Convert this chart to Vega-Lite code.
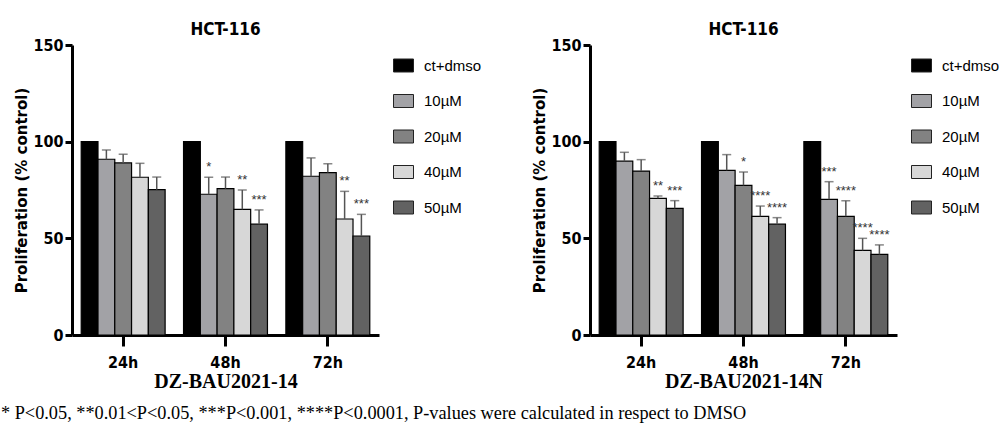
{
  "$schema": "https://vega.github.io/schema/vega-lite/v6.json",
  "padding": {"left": 0, "top": 21, "right": 0, "bottom": 0},
  "title": {
    "text": "* P<0.05, **0.01<P<0.05, ***P<0.001, ****P<0.0001, P-values were calculated in respect to DMSO",
    "orient": "bottom", "anchor": "start", "frame": "bounds",
    "font": "Liberation Serif", "fontSize": 18.3, "fontWeight": "normal", "color": "black",
    "dx": -14, "offset": 14
  },
  "datasets": {
    "left": [
      {"time": "24h", "group": "ct+dmso", "value": 100, "err": null, "sig": ""},
      {"time": "24h", "group": "10µM", "value": 90.9, "err": 95.7, "sig": ""},
      {"time": "24h", "group": "20µM", "value": 89.0, "err": 93.5, "sig": ""},
      {"time": "24h", "group": "40µM", "value": 81.6, "err": 88.8, "sig": ""},
      {"time": "24h", "group": "50µM", "value": 75.2, "err": 81.7, "sig": ""},
      {"time": "48h", "group": "ct+dmso", "value": 100, "err": null, "sig": ""},
      {"time": "48h", "group": "10µM", "value": 72.8, "err": 81.6, "sig": "*"},
      {"time": "48h", "group": "20µM", "value": 75.7, "err": 81.7, "sig": ""},
      {"time": "48h", "group": "40µM", "value": 65.0, "err": 75.0, "sig": "**"},
      {"time": "48h", "group": "50µM", "value": 57.3, "err": 64.7, "sig": "***"},
      {"time": "72h", "group": "ct+dmso", "value": 100, "err": null, "sig": ""},
      {"time": "72h", "group": "10µM", "value": 82.1, "err": 91.6, "sig": ""},
      {"time": "72h", "group": "20µM", "value": 84.0, "err": 88.6, "sig": ""},
      {"time": "72h", "group": "40µM", "value": 60.0, "err": 74.3, "sig": "**"},
      {"time": "72h", "group": "50µM", "value": 51.2, "err": 62.4, "sig": "***"}
    ],
    "right": [
      {"time": "24h", "group": "ct+dmso", "value": 100, "err": null, "sig": ""},
      {"time": "24h", "group": "10µM", "value": 89.9, "err": 94.5, "sig": ""},
      {"time": "24h", "group": "20µM", "value": 84.8, "err": 90.7, "sig": ""},
      {"time": "24h", "group": "40µM", "value": 70.7, "err": 71.9, "sig": "**"},
      {"time": "24h", "group": "50µM", "value": 65.5, "err": 69.5, "sig": "***"},
      {"time": "48h", "group": "ct+dmso", "value": 100, "err": null, "sig": ""},
      {"time": "48h", "group": "10µM", "value": 85.2, "err": 93.3, "sig": ""},
      {"time": "48h", "group": "20µM", "value": 77.4, "err": 84.3, "sig": "*"},
      {"time": "48h", "group": "40µM", "value": 61.4, "err": 66.7, "sig": "****"},
      {"time": "48h", "group": "50µM", "value": 57.3, "err": 60.7, "sig": "****"},
      {"time": "72h", "group": "ct+dmso", "value": 100, "err": null, "sig": ""},
      {"time": "72h", "group": "10µM", "value": 70.2, "err": 79.3, "sig": "***"},
      {"time": "72h", "group": "20µM", "value": 61.4, "err": 69.5, "sig": "****"},
      {"time": "72h", "group": "40µM", "value": 43.8, "err": 50.0, "sig": "****"},
      {"time": "72h", "group": "50µM", "value": 41.7, "err": 46.6, "sig": "****"}
    ]
  },
  "spacing": 40,
  "resolve": {"scale": {"color": "independent"}},
  "hconcat": [
    {
      "data": {"name": "left"},
      "width": 307, "height": 290,
      "title": {"text": "HCT-116", "frame": "group", "anchor": "middle"},
      "encoding": {
        "x": {"field": "time", "type": "nominal", "sort": ["24h", "48h", "72h"],
              "scale": {"paddingInner": 0.18, "paddingOuter": 0.09},
              "axis": {"title": "DZ-BAU2021-14"}},
        "xOffset": {"field": "group", "type": "nominal", "sort": ["ct+dmso", "10µM", "20µM", "40µM", "50µM"],
                    "scale": {"paddingInner": 0, "paddingOuter": 0}}
      },
      "layer": [
        {
          "mark": {"type": "bar", "stroke": "black", "strokeWidth": 1.2},
          "encoding": {
            "y": {"field": "value", "type": "quantitative", "scale": {"domain": [0, 150], "nice": false},
                  "axis": {"values": [0, 50, 100, 150], "title": "Proliferation (% control)"}},
            "color": {"field": "group", "type": "nominal", "sort": ["ct+dmso", "10µM", "20µM", "40µM", "50µM"],
                      "scale": {"domain": ["ct+dmso", "10µM", "20µM", "40µM", "50µM"],
                                "range": ["#000000", "#a2a2a6", "#828282", "#d7d7d7", "#626262"]},
                      "legend": {"title": null}}
          }
        },
        {
          "transform": [{"filter": "datum.err != null"}],
          "mark": {"type": "rule", "color": "#555555", "strokeWidth": 1.5},
          "encoding": {"y": {"field": "value", "type": "quantitative"}, "y2": {"field": "err"}}
        },
        {
          "transform": [{"filter": "datum.err != null"}],
          "mark": {"type": "tick", "color": "#555555", "thickness": 1.5, "size": 9},
          "encoding": {"y": {"field": "err", "type": "quantitative"}}
        },
        {
          "transform": [{"filter": "datum.sig != ''"}],
          "mark": {"type": "text", "font": "Liberation Sans", "fontSize": 13, "color": "#333333", "baseline": "middle", "dy": -10},
          "encoding": {"y": {"field": "err", "type": "quantitative"}, "text": {"field": "sig"}}
        }
      ]
    },
    {
      "data": {"name": "right"},
      "width": 307, "height": 290,
      "title": {"text": "HCT-116", "frame": "group", "anchor": "middle"},
      "encoding": {
        "x": {"field": "time", "type": "nominal", "sort": ["24h", "48h", "72h"],
              "scale": {"paddingInner": 0.18, "paddingOuter": 0.09},
              "axis": {"title": "DZ-BAU2021-14N"}},
        "xOffset": {"field": "group", "type": "nominal", "sort": ["ct+dmso", "10µM", "20µM", "40µM", "50µM"],
                    "scale": {"paddingInner": 0, "paddingOuter": 0}}
      },
      "layer": [
        {
          "mark": {"type": "bar", "stroke": "black", "strokeWidth": 1.2},
          "encoding": {
            "y": {"field": "value", "type": "quantitative", "scale": {"domain": [0, 150], "nice": false},
                  "axis": {"values": [0, 50, 100, 150], "title": "Proliferation (% control)"}},
            "color": {"field": "group", "type": "nominal", "sort": ["ct+dmso", "10µM", "20µM", "40µM", "50µM"],
                      "scale": {"domain": ["ct+dmso", "10µM", "20µM", "40µM", "50µM"],
                                "range": ["#000000", "#a2a2a6", "#828282", "#d7d7d7", "#626262"]},
                      "legend": {"title": null}}
          }
        },
        {
          "transform": [{"filter": "datum.err != null"}],
          "mark": {"type": "rule", "color": "#555555", "strokeWidth": 1.5},
          "encoding": {"y": {"field": "value", "type": "quantitative"}, "y2": {"field": "err"}}
        },
        {
          "transform": [{"filter": "datum.err != null"}],
          "mark": {"type": "tick", "color": "#555555", "thickness": 1.5, "size": 9},
          "encoding": {"y": {"field": "err", "type": "quantitative"}}
        },
        {
          "transform": [{"filter": "datum.sig != ''"}],
          "mark": {"type": "text", "font": "Liberation Sans", "fontSize": 13, "color": "#333333", "baseline": "middle", "dy": -10},
          "encoding": {"y": {"field": "err", "type": "quantitative"}, "text": {"field": "sig"}}
        }
      ]
    }
  ],
  "config": {
    "view": {"stroke": null},
    "axis": {
      "domainColor": "black", "domainWidth": 3, "tickColor": "black", "tickWidth": 3, "tickSize": 7,
      "labelColor": "black", "labelFont": "'DejaVu Sans Condensed', 'Liberation Sans', sans-serif", "labelFontWeight": "bold", "labelFontSize": 16,
      "titleColor": "black", "grid": false
    },
    "axisX": {"labelAngle": 0, "labelFontSize": 16, "tickSize": 11, "labelPadding": 8, "titleFont": "Liberation Serif", "titleFontSize": 20, "titleFontWeight": "bold", "titlePadding": 1},
    "axisY": {"titleFont": "DejaVu Sans", "titleFontSize": 15, "titleFontWeight": "bold", "labelPadding": 2, "titlePadding": 3},
    "legend": {
      "orient": "right", "offset": 4, "padding": 10,
      "symbolType": "M-1,-0.65L1,-0.65L1,0.65L-1,0.65Z", "symbolSize": 400,
      "symbolStrokeColor": "#222222", "symbolStrokeWidth": 1,
      "labelFont": "Liberation Sans", "labelFontSize": 15, "labelColor": "black", "labelOffset": 10,
      "rowPadding": 16.5
    },
    "title": {"font": "'DejaVu Sans Condensed', 'Liberation Sans', sans-serif", "fontSize": 17, "fontWeight": "bold", "color": "black", "offset": -2}
  }
}
